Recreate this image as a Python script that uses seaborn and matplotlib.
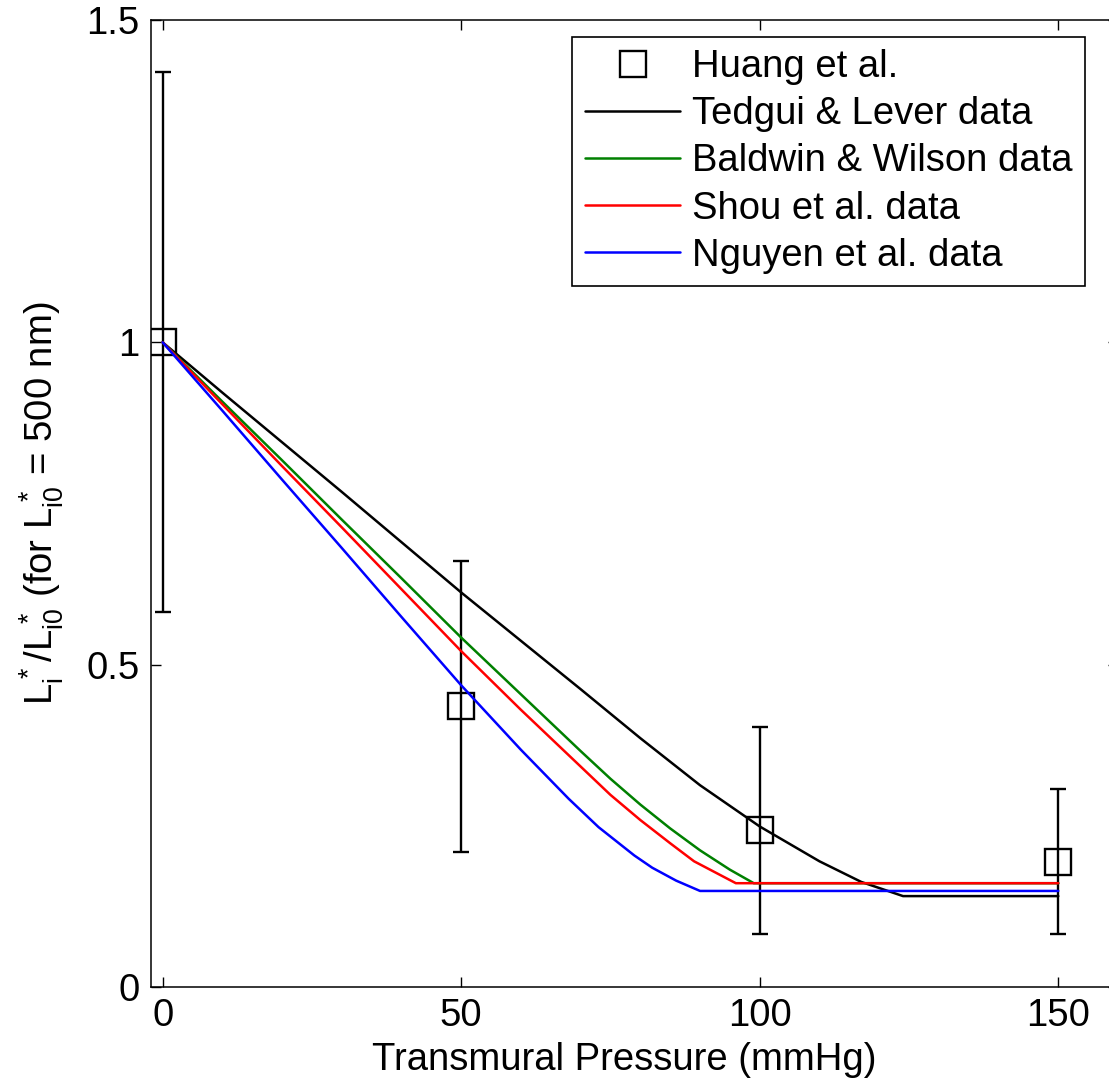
import numpy as np
import pandas as pd
import seaborn as sns
import matplotlib
matplotlib.use("Agg")
import matplotlib.pyplot as plt
from matplotlib.ticker import FuncFormatter

# ---- data ----
huang_x = [0, 50, 100, 150]
huang_y = [1.0, 0.436, 0.244, 0.194]
huang_lo = [0.582, 0.210, 0.082, 0.082]
huang_hi = [1.420, 0.661, 0.404, 0.307]

tedgui_x = [0, 10, 20, 30, 40, 50, 60, 70, 80, 90, 100, 110, 117, 124, 150]
tedgui_y = [1.0, 0.922, 0.845, 0.768, 0.690, 0.612, 0.537, 0.462, 0.386, 0.313, 0.249, 0.195, 0.163, 0.141, 0.141]

baldwin_x = [0, 10, 20, 30, 40, 50, 60, 70, 75, 80, 85, 90, 95, 99, 150]
baldwin_y = [1.0, 0.908, 0.817, 0.725, 0.634, 0.542, 0.454, 0.366, 0.323, 0.283, 0.246, 0.212, 0.182, 0.161, 0.161]

shou_x = [0, 10, 20, 30, 40, 50, 60, 70, 75, 80, 85, 89, 96, 150]
shou_y = [1.0, 0.904, 0.808, 0.713, 0.617, 0.521, 0.430, 0.342, 0.298, 0.259, 0.223, 0.195, 0.161, 0.161]

nguyen_x = [0, 10, 20, 30, 40, 50, 60, 68, 73, 79, 82, 86, 90, 150]
nguyen_y = [1.0, 0.894, 0.787, 0.681, 0.574, 0.468, 0.368, 0.292, 0.248, 0.204, 0.185, 0.165, 0.149, 0.149]

series_names = ["Tedgui & Lever data", "Baldwin & Wilson data", "Shou et al. data", "Nguyen et al. data"]
series_colors = ["#000000", "#008000", "#ff0000", "#0000ff"]

x_ticks = [0, 50, 100, 150]
y_ticks = [0, 0.5, 1, 1.5]

# ---- build long-form table ----
frames = []
for name, xs, ys in zip(series_names,
                        [tedgui_x, baldwin_x, shou_x, nguyen_x],
                        [tedgui_y, baldwin_y, shou_y, nguyen_y]):
    frames.append(pd.DataFrame({"x": xs, "y": ys, "series": name}))
lines_df = pd.concat(frames, ignore_index=True)

sns.set_theme(style="ticks")
plt.rcParams["font.family"] = ["Liberation Sans", "DejaVu Sans"]
plt.rcParams["mathtext.default"] = "regular"
plt.rcParams["axes.linewidth"] = 1.1
for k in ["text.color", "axes.labelcolor", "xtick.color", "ytick.color", "axes.edgecolor"]:
    plt.rcParams[k] = "black"

FS = 27.5
W, H = 1109, 1086
fig = plt.figure(figsize=(W / 100, H / 100), dpi=100)
left_px, right_px, bottom_px, top_px = 150.7, 1118.0, 987.0, 20.0
ax = fig.add_axes([left_px / W, 1 - bottom_px / H, (right_px - left_px) / W, (bottom_px - top_px) / H])

hy = np.array(huang_y)
yerr = [hy - np.array(huang_lo), np.array(huang_hi) - hy]
ax.errorbar(huang_x, huang_y, yerr=yerr, fmt="none", ecolor="black",
            elinewidth=1.7, capsize=6, capthick=1.7, zorder=2)
ax.plot(huang_x, huang_y, linestyle="none", marker="s", ms=19, mfc="none",
        mec="black", mew=1.7, label="Huang et al.", zorder=2)

sns.lineplot(data=lines_df, x="x", y="y", hue="series", hue_order=series_names,
             palette=dict(zip(series_names, series_colors)), linewidth=1.8,
             sort=False, estimator=None, ax=ax, zorder=3)

ax.set_xlim(-2, 160)
ax.set_ylim(0, 1.5)
ax.set_xticks(x_ticks)
ax.set_yticks(y_ticks)
fmt = FuncFormatter(lambda v, p: "%g" % v)
ax.xaxis.set_major_formatter(fmt)
ax.yaxis.set_major_formatter(fmt)
ax.tick_params(direction="in", length=7, width=1, top=True, right=True,
               labelsize=FS, colors="black")
ax.tick_params(axis="x", pad=8)
ax.tick_params(axis="y", pad=8)

ax.set_xlabel("Transmural Pressure (mmHg)", fontsize=FS, labelpad=8)
ax.xaxis.set_label_coords((624.5 - left_px) / (right_px - left_px), -0.057)
ax.xaxis.label.set_va("top")
ax.set_ylabel(r"$L_i^*/L_{i0}^*$ (for $L_{i0}^*$ = 500 nm)", fontsize=FS)
ax.yaxis.set_label_coords((66 - left_px) / (right_px - left_px), 0.5)

handles, labels = ax.get_legend_handles_labels()
order = [labels.index("Huang et al.")] + [labels.index(n) for n in series_names]
leg = ax.legend([handles[i] for i in order], [labels[i] for i in order],
                loc="upper right", bbox_to_anchor=(1085 / W, 1 - 36.7 / H),
                bbox_transform=fig.transFigure, borderaxespad=0,
                fontsize=FS, handlelength=2.5, handletextpad=0.3,
                labelspacing=0.29, borderpad=0.33, fancybox=False,
                framealpha=1, edgecolor="black")
leg.get_frame().set_linewidth(1.2)

fig.savefig("out.png", dpi=100)
